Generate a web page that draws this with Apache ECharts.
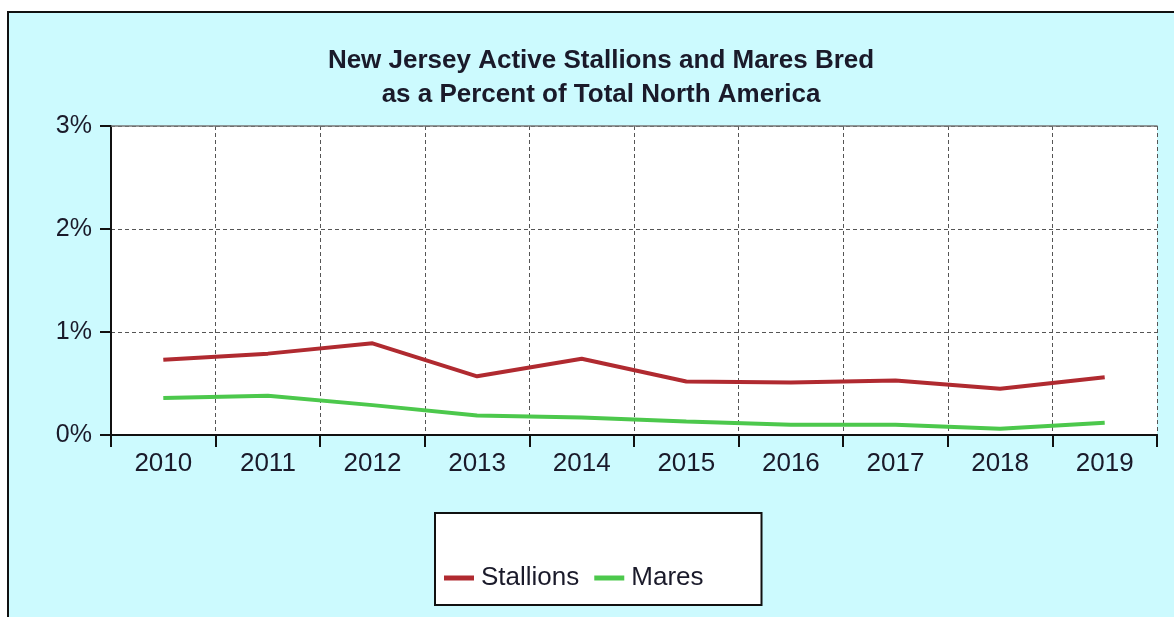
<!DOCTYPE html>
<html><head><meta charset="utf-8">
<script src="https://cdn.jsdelivr.net/npm/echarts@6/dist/echarts.min.js"></script>
<style>html,body{margin:0;padding:0;background:#fff}#c{width:1174px;height:617px}</style>
</head><body><div id="c"></div>
<script>
const years = ['2010','2011','2012','2013','2014','2015','2016','2017','2018','2019'];
const stallions = [0.73, 0.79, 0.89, 0.57, 0.74, 0.52, 0.51, 0.53, 0.45, 0.56];
const mares = [0.36, 0.38, 0.29, 0.19, 0.17, 0.13, 0.10, 0.10, 0.06, 0.12];
const yTicks = [0, 1, 2, 3];
const titleLines = ['New Jersey Active Stallions and Mares Bred', 'as a Percent of Total North America'];

const chart = echarts.init(document.getElementById('c'));
const font = 'Liberation Sans, Arial, sans-serif';
chart.setOption({
  backgroundColor: '#fff',
  animation: false,
  graphic: [{
    type: 'rect', z: -10, silent: true,
    shape: { x: 8, y: 12, width: 1180, height: 620 },
    style: { fill: '#CCFAFE', stroke: '#111', lineWidth: 2 }
  }],
  title: {
    text: titleLines.join('\n'),
    left: 596, top: 39, textAlign: 'center',
    textStyle: { fontFamily: font, fontWeight: 'bold', fontSize: 26, color: '#1a1a2a', lineHeight: 34 }
  },
  legend: {
    data: ['Stallions', 'Mares'],
    left: 435, top: 513,
    padding: [52, 58, 14, 9],
    backgroundColor: '#fff', borderColor: '#111', borderWidth: 2,
    itemWidth: 30, itemHeight: 5, itemGap: 15,
    icon: 'rect',
    textStyle: { fontFamily: font, fontSize: 26, color: '#1a1a2a', padding: [0,0,0,2] }
  },
  grid: { left: 111, right: 17, top: 126, bottom: 182, backgroundColor: '#fff', show: true, borderWidth: 0 },
  xAxis: [{
    type: 'category', data: years, boundaryGap: true,
    axisLine: { lineStyle: { color: '#111', width: 2 } },
    axisTick: { show: true, length: 12, lineStyle: { color: '#111', width: 2 } },
    axisLabel: { fontFamily: font, fontSize: 26, color: '#1a1a2a', margin: 16 },
    splitLine: { show: true, lineStyle: { color: '#555', type: [4, 3], width: 1 } }
  }, {
    type: 'category', data: years, position: 'top',
    axisLine: { lineStyle: { color: '#777', width: 1.5 } },
    axisTick: { show: false }, axisLabel: { show: false }, splitLine: { show: false }
  }],
  yAxis: {
    type: 'value', min: yTicks[0], max: yTicks[yTicks.length - 1], interval: 1,
    axisLine: { show: true, lineStyle: { color: '#111', width: 2 } },
    axisTick: { show: true, length: 11, lineStyle: { color: '#111', width: 2 } },
    axisLabel: { fontFamily: font, fontSize: 25, color: '#1a1a2a', margin: 19, formatter: v => v + '%' },
    splitLine: { show: true, lineStyle: { color: '#555', type: [4, 3], width: 1 } }
  },
  series: [
    { name: 'Stallions', type: 'line', data: stallions, symbol: 'none', lineStyle: { color: '#B02A30', width: 4 }, itemStyle: { color: '#B02A30' } },
    { name: 'Mares', type: 'line', data: mares, symbol: 'none', lineStyle: { color: '#4CC84C', width: 4 }, itemStyle: { color: '#4CC84C' } }
  ]
});
</script></body></html>
